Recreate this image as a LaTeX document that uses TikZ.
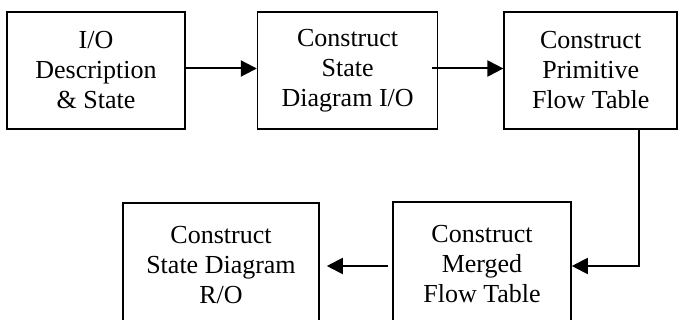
\documentclass[tikz,border=0pt]{standalone}
\usepackage{fontspec}
\setmainfont{Liberation Serif}
\usetikzlibrary{arrows.meta,positioning}

\begin{document}
\begin{tikzpicture}[
    x=1pt, y=-1pt,
    % Nodes
    box/.style={rectangle, draw=black, line width=1.6pt, minimum height=117pt, align=center,
                inner sep=0pt, font=\fontsize{26}{30}\selectfont},
    % Connectors
    flow/.style={-{Triangle[length=16pt, width=16pt]}, line width=2pt, draw=black}
]
\useasboundingbox (0,0) rectangle (678,320);

% Top row
\node[box, minimum width=178pt] (desc) at (96,70.5) {I/O\\Description\\\& State};
\node[box, minimum width=180pt, right=71pt of desc] (stateio) {Construct\\State\\Diagram I/O};
\node[box, minimum width=173pt, right=65pt of stateio] (primitive) {Construct\\Primitive\\Flow Table};

% Bottom row
\node[box, minimum width=178pt, minimum height=124pt] (merged) at (482,264) {Construct\\Merged\\Flow Table};
\node[box, minimum width=196pt, minimum height=124pt] (statero) at (221,265) {Construct\\State Diagram\\R/O};

% Flow between the steps
\draw[flow] ([yshift=2pt]desc.east) -- ([yshift=2pt]stateio.west);
\draw[flow] ([xshift=-6pt,yshift=2pt]stateio.east) -- ([yshift=2pt]primitive.west);
\draw[flow] ([xshift=48pt]primitive.south) |- ([yshift=-2pt]merged.east);
\draw[flow] ([xshift=-4pt,yshift=-2pt]merged.west) -- ([xshift=7pt,yshift=-1pt]statero.east);

\end{tikzpicture}
\end{document}
